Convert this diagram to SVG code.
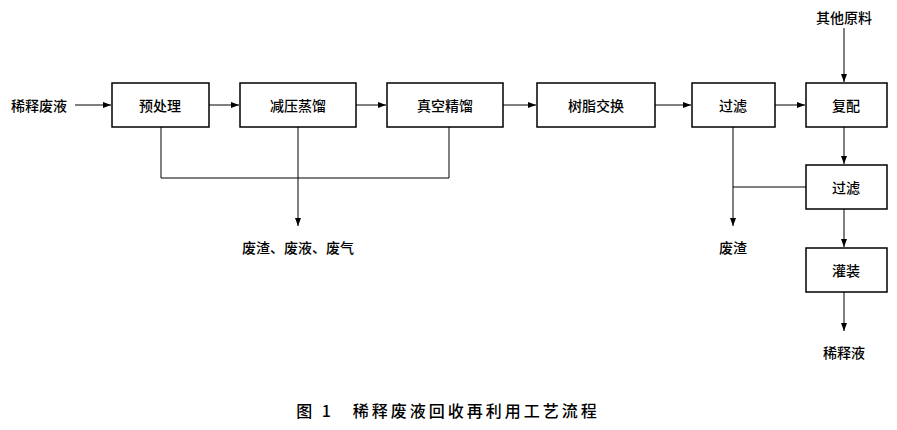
<svg xmlns="http://www.w3.org/2000/svg" width="897" height="430" viewBox="0 0 897 430">
<defs><marker id="a" markerWidth="8" markerHeight="6" refX="8" refY="3" orient="auto" markerUnits="userSpaceOnUse"><path d="M0,0 L8,3 L0,6 z" fill="#000"/></marker></defs>
<style>
rect{fill:#fff;stroke:#000;stroke-width:1.5}
text{font-family:"Noto Sans CJK SC",sans-serif;font-size:14px;font-weight:500;text-anchor:middle;dominant-baseline:central;fill:#000}
.c line,.c polyline{stroke:#000;stroke-width:1;fill:none}
</style>
<rect width="897" height="430" style="fill:#fff;stroke:none"/>
<g class="c">
<line x1="75" y1="105" x2="111" y2="105" marker-end="url(#a)"/>
<line x1="209" y1="105" x2="239" y2="105" marker-end="url(#a)"/>
<line x1="356" y1="105" x2="386" y2="105" marker-end="url(#a)"/>
<line x1="503" y1="105" x2="536" y2="105" marker-end="url(#a)"/>
<line x1="655" y1="105" x2="691" y2="105" marker-end="url(#a)"/>
<line x1="775" y1="105" x2="805" y2="105" marker-end="url(#a)"/>
<line x1="844" y1="28" x2="844" y2="82" marker-end="url(#a)"/>
<polyline points="161,127 161,178 449,178 449,127"/>
<line x1="298" y1="127" x2="298" y2="226" marker-end="url(#a)"/>
<line x1="733" y1="127" x2="733" y2="226" marker-end="url(#a)"/>
<line x1="733" y1="187" x2="806" y2="187"/>
<line x1="844" y1="127" x2="844" y2="164" marker-end="url(#a)"/>
<line x1="844" y1="209" x2="844" y2="247" marker-end="url(#a)"/>
<line x1="844" y1="292" x2="844" y2="331" marker-end="url(#a)"/>
</g>
<text x="39" y="105">稀释废液</text>
<text x="844" y="17">其他原料</text>
<g id="n1"><rect x="112" y="83" width="97" height="44"/><text x="160" y="105">预处理</text></g>
<g id="n2"><rect x="240" y="83" width="116" height="44"/><text x="298" y="105">减压蒸馏</text></g>
<g id="n3"><rect x="387" y="83" width="116" height="44"/><text x="445" y="105">真空精馏</text></g>
<g id="n4"><rect x="537" y="83" width="118" height="44"/><text x="596" y="105">树脂交换</text></g>
<g id="n5"><rect x="692" y="83" width="83" height="44"/><text x="733" y="105">过滤</text></g>
<g id="n6"><rect x="806" y="83" width="81" height="44"/><text x="846" y="105">复配</text></g>
<g id="n7"><rect x="806" y="165" width="81" height="44"/><text x="846" y="187">过滤</text></g>
<g id="n8"><rect x="806" y="248" width="81" height="44"/><text x="846" y="270">灌装</text></g>
<text x="298" y="247">废渣、废液、废气</text>
<text x="733" y="247">废渣</text>
<text x="844" y="352">稀释液</text>
<text x="448" y="410" style="letter-spacing:3px;font-size:16px">图 1　稀释废液回收再利用工艺流程</text>
</svg>
